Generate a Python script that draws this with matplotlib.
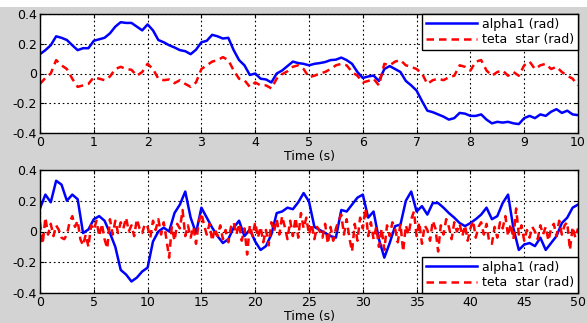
#!/usr/bin/env python

import numpy as np
import matplotlib
matplotlib.use("Agg")
import matplotlib.pyplot as plt
from matplotlib.patches import Rectangle

plt.rcParams["font.family"] = ["DejaVu Sans"]
plt.rcParams["axes.unicode_minus"] = False

# top panel: 0..10 s, sampled every 0.1 s
t_top = np.arange(101) * 0.1
alpha_top = [
    0.13, 0.157, 0.19, 0.25, 0.24, 0.225, 0.19, 0.157, 0.17, 0.17,
    0.22, 0.23, 0.24, 0.27, 0.315, 0.345, 0.34, 0.34, 0.315, 0.29,
    0.33, 0.29, 0.225, 0.21, 0.19, 0.175, 0.157, 0.15, 0.13, 0.16,
    0.21, 0.22, 0.26, 0.25, 0.235, 0.24, 0.157, 0.09, 0.055, -0.01,
    0.0, -0.035, -0.04, -0.06, 0.0, 0.02, 0.05, 0.08, 0.07, 0.065,
    0.055, 0.065, 0.07, 0.077, 0.09, 0.093, 0.107, 0.09, 0.065, 0.01,
    -0.03, -0.02, -0.014, -0.05, 0.03, 0.05, 0.03, 0.01, -0.05, -0.08,
    -0.115, -0.185, -0.25, -0.26, -0.275, -0.29, -0.31, -0.3, -0.265, -0.27,
    -0.285, -0.285, -0.275, -0.31, -0.335, -0.325, -0.33, -0.325, -0.335, -0.34,
    -0.3, -0.285, -0.3, -0.275, -0.285, -0.257, -0.24, -0.265, -0.25, -0.275,
    -0.28,
]
teta_top = [
    -0.07, -0.03, 0.0, 0.09, 0.055, 0.03, -0.035, -0.09, -0.08, -0.07,
    -0.025, -0.035, -0.045, -0.02, 0.03, 0.045, 0.03, 0.025, -0.015, 0.01,
    0.065, 0.03, -0.035, -0.045, -0.04, -0.065, -0.045, -0.07, -0.09, -0.06,
    0.03, 0.055, 0.08, 0.09, 0.11, 0.09, 0.02, -0.035, -0.045, -0.09,
    -0.06, -0.08, -0.08, -0.1, -0.035, -0.005, 0.015, 0.045, 0.055, 0.03,
    -0.025, -0.015, 0.0, 0.01, 0.03, 0.055, 0.065, 0.055, 0.01, -0.015,
    -0.06, -0.05, -0.035, -0.08, 0.065, 0.055, 0.08, 0.09, 0.055, 0.045,
    0.03, 0.0, -0.07, -0.045, -0.035, -0.045, -0.025, -0.015, 0.055, 0.045,
    0.02, 0.08, 0.09, 0.02, -0.015, 0.01, 0.02, -0.015, 0.01, -0.015,
    0.055, 0.08, 0.03, 0.055, 0.065, 0.03, 0.045, 0.01, -0.015, -0.035,
    -0.08,
]

# bottom panel: 0..50 s
t_bot_alpha = np.arange(101) * 0.5
alpha_bot = [
    0.15, 0.24, 0.19, 0.33, 0.305, 0.2, 0.24, 0.21, -0.01, 0.013,
    0.08, 0.1, 0.07, -0.01, -0.1, -0.25, -0.28, -0.325, -0.3, -0.26,
    -0.235, -0.065, 0.0, 0.025, 0.0, 0.12, 0.175, 0.26, 0.09, -0.01,
    0.155, 0.09, 0.025, -0.03, -0.075, -0.05, 0.025, 0.07, -0.03, 0.013,
    -0.065, -0.12, -0.095, -0.02, 0.12, 0.13, 0.155, 0.145, 0.19, 0.25,
    0.195, 0.03, 0.01, -0.01, -0.03, -0.04, 0.14, 0.13, 0.175, 0.22,
    0.24, 0.09, 0.13, -0.05, -0.17, -0.075, 0.035, 0.045, 0.2, 0.26,
    0.13, 0.165, 0.11, 0.185, 0.185, 0.155, 0.12, 0.09, 0.055, 0.035,
    0.055, 0.08, 0.11, 0.155, 0.08, 0.1, 0.185, 0.24, 0.02, -0.12,
    -0.085, -0.075, -0.095, -0.04, -0.12, -0.075, -0.03, 0.055, 0.09, 0.155,
    0.175,
]
t_bot_teta = np.arange(201) * 0.25
teta_bot = [
    0.06, -0.08, 0.09, -0.02, 0.05, -0.03, 0.04, 0.01,
    -0.04, -0.05, -0.02, 0.06, 0.10, 0.03, 0.07, -0.05,
    -0.09, -0.02, -0.10, 0.04, 0.01, 0.07, -0.03, 0.05,
    -0.05, -0.11, 0.08, -0.02, 0.07, -0.01, 0.06, 0.02,
    0.09, 0.00, 0.04, -0.03, 0.08, 0.02, -0.01, 0.05,
    0.03, -0.04, 0.07, 0.01, 0.08, -0.02, 0.06, -0.05,
    -0.17, 0.03, -0.06, 0.05, 0.02, 0.14, -0.03, 0.04,
    -0.04, 0.03, -0.08, 0.06, 0.12, 0.04, -0.02, 0.05,
    -0.06, 0.02, -0.03, 0.04, -0.05, 0.01, -0.07, 0.03,
    0.06, -0.02, 0.05, -0.06, 0.02, -0.15, 0.04, -0.03,
    0.06, -0.04, 0.03, -0.07, 0.01, -0.09, 0.06, 0.00,
    0.08, -0.02, 0.10, 0.03, -0.05, 0.07, -0.03, 0.09,
    -0.04, 0.12, 0.02, 0.09, -0.02, 0.05, -0.05, 0.03,
    0.00, -0.04, 0.05, -0.08, 0.03, -0.06, 0.02, 0.07,
    0.11, -0.02, 0.08, -0.04, -0.13, 0.05, -0.06, 0.09,
    0.02, 0.15, -0.03, 0.06, -0.05, 0.03, -0.10, 0.02,
    -0.12, 0.04, -0.03, 0.06, 0.02, -0.07, 0.05, -0.13,
    0.04, -0.02, 0.08, 0.13, -0.03, 0.06, -0.08, 0.04,
    0.01, -0.06, 0.07, 0.02, -0.13, 0.04, -0.02, 0.08,
    0.03, -0.05, 0.06, 0.00, 0.05, -0.03, 0.04, -0.06,
    0.02, 0.07, -0.04, 0.03, 0.06, -0.02, 0.05, -0.07,
    -0.08, 0.03, -0.04, 0.06, 0.02, 0.10, -0.03, 0.05,
    -0.05, 0.15, -0.02, 0.04, -0.06, 0.01, -0.04, 0.03,
    0.00, -0.05, 0.04, -0.02, 0.03, -0.06, 0.02, 0.05,
    -0.03, 0.07, -0.02, 0.04, 0.06, -0.12, 0.03, -0.04,
    0.02,
]

yticks = [-0.4, -0.2, 0, 0.2, 0.4]
ytick_labels = ["-0.4", "-0.2", "0", "0.2", "0.4"]
xticks_top = list(range(0, 11))
xticks_bot = list(range(0, 51, 5))

bg = "#d3d3d3"
fs = 9

fig = plt.figure(figsize=(5.87, 3.23), dpi=100, facecolor=bg)
fig.patches.append(Rectangle((0, 1 - 7 / 323), 1, 7 / 323, transform=fig.transFigure,
                             facecolor="white", edgecolor="none", zorder=0))

ax1 = fig.add_axes([40 / 587, 1 - 133 / 323, 538 / 587, 119 / 323])
ax2 = fig.add_axes([40 / 587, 1 - 293 / 323, 538 / 587, 123 / 323])


def style(ax, xticks, xmax):
    ax.set_xlim(0, xmax)
    ax.set_ylim(-0.4, 0.4)
    ax.set_xticks(xticks)
    ax.set_xticklabels([str(v) for v in xticks])
    ax.set_yticks(yticks)
    ax.set_yticklabels(ytick_labels)
    ax.tick_params(direction="in", length=3, width=0.8, labelsize=fs, pad=2,
                   top=True, right=True, colors="black")
    ax.grid(True, color="black", linestyle=(0, (1.5, 2.5)), linewidth=0.8)
    for s in ax.spines.values():
        s.set_linewidth(1.0)
        s.set_color("black")
    ax.set_xlabel("Time (s)", fontsize=fs, labelpad=1)


def add_legend(ax, loc):
    leg = ax.legend(loc=loc, borderaxespad=0, fontsize=fs, fancybox=False,
                    framealpha=1, edgecolor="black", handlelength=4.1,
                    borderpad=0.3, labelspacing=0.2, handletextpad=0.4)
    leg.get_frame().set_linewidth(1.0)


ax1.plot(t_top, alpha_top, color="#0000ff", lw=1.8, label="alpha1 (rad)")
ax1.plot(t_top, teta_top, color="#ff0000", lw=1.8, ls=(0, (3, 2)), label="teta  star (rad)")
style(ax1, xticks_top, 10)
add_legend(ax1, "upper right")

ax2.plot(t_bot_alpha, alpha_bot, color="#0000ff", lw=1.8, label="alpha1 (rad)")
ax2.plot(t_bot_teta, teta_bot, color="#ff0000", lw=1.8, ls=(0, (3, 2)), label="teta  star (rad)")
style(ax2, xticks_bot, 50)
add_legend(ax2, "lower right")

fig.savefig("out.png", dpi=100, facecolor=bg)
